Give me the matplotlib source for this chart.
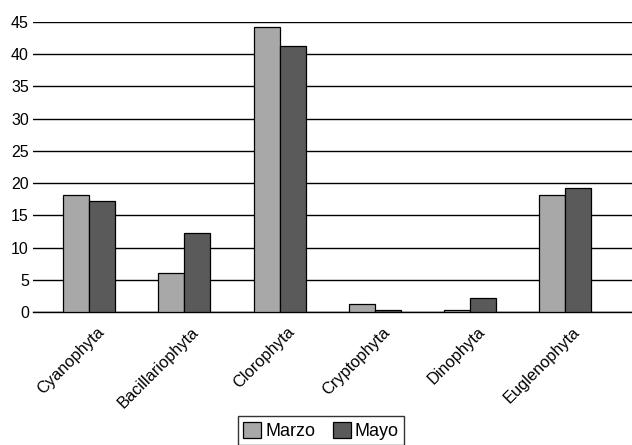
import numpy as np
import matplotlib
matplotlib.use("Agg")
import matplotlib.pyplot as plt
import matplotlib.transforms as mtransforms

plt.rcParams['font.family'] = ['Liberation Sans', 'DejaVu Sans']

categories = ['Cyanophyta', 'Bacillariophyta', 'Clorophyta', 'Cryptophyta', 'Dinophyta', 'Euglenophyta']
marzo = [18.2, 6.1, 44.3, 1.2, 0.3, 18.2]
mayo = [17.3, 12.2, 41.2, 0.3, 2.2, 19.3]

x = np.arange(len(categories))
w = 0.273

fig = plt.figure(figsize=(6.32, 4.45), dpi=100)
ax = fig.add_axes([33 / 632, 1 - 312 / 445, 599 / 632, 290 / 445])

ax.bar(x - w / 2, marzo, w, color='#a8a8a8', edgecolor='black', linewidth=0.9, label='Marzo', zorder=3)
ax.bar(x + w / 2, mayo, w, color='#5a5a5a', edgecolor='black', linewidth=0.9, label='Mayo', zorder=3)

ax.set_ylim(0, 45)
ax.set_yticks(range(0, 46, 5))
ax.set_xlim(-0.588, 5.70)
ax.yaxis.grid(True, color='black', linewidth=1.0, zorder=0)
ax.set_axisbelow(True)
for s in ['left', 'right', 'top']:
    ax.spines[s].set_visible(False)
ax.spines['bottom'].set_linewidth(1.0)
ax.tick_params(axis='y', length=0, labelsize=11.5, pad=3)
ax.tick_params(axis='x', length=0, labelsize=11.8, pad=9)
ax.set_xticks(x)
ax.set_xticklabels(categories, rotation=45, ha='right', rotation_mode='anchor')
shift = mtransforms.ScaledTranslation(7 / 100, 0, fig.dpi_scale_trans)
for lab in ax.get_xticklabels():
    lab.set_transform(lab.get_transform() + shift)

leg = fig.legend(loc='lower center', bbox_to_anchor=(0.508, -0.005), ncol=2, fontsize=13,
                 frameon=True, fancybox=False, edgecolor='black', handlelength=1.0,
                 handleheight=1.0, handletextpad=0.2, columnspacing=1.0, borderpad=0.3,
                 borderaxespad=0.1)
leg.get_frame().set_linewidth(1.0)

fig.savefig('out.png', dpi=100)
